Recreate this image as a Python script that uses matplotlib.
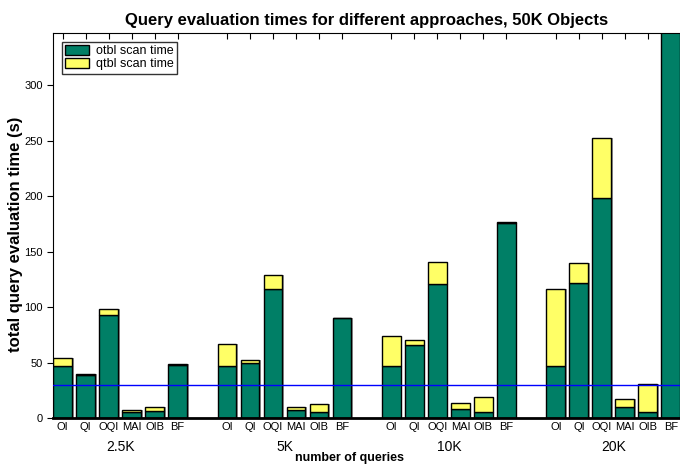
import matplotlib.pyplot as plt
import numpy as np

plt.rcParams['font.family'] = ['Liberation Sans', 'DejaVu Sans']

#---------------- datos ------------
grupos = ["2.5K", "5K", "10K", "20K"]
metodos = ["OI", "QI", "OQI", "MAI", "OIB", "BF"]

# tiempo de scan de otbl (verde) por grupo
otbl = [
    [47, 39, 93, 5, 6, 48],
    [47, 50, 116, 7, 5.5, 90],
    [47, 65.5, 121, 8.4, 5.5, 176],
    [47, 122, 198, 10, 5, 400],
]
# tiempo de scan de qtbl (amarillo) por grupo
qtbl = [
    [7, 0.5, 5, 2, 3.5, 0.5],
    [20, 2, 13, 2.5, 7, 0.5],
    [27, 5, 20, 4.8, 13.5, 1],
    [69, 17.5, 54, 7.5, 26, 0],
]
linea_ref = 30

#---------------- grafico ------------
fig = plt.figure(figsize=(6.8, 4.65), dpi=100)
ax = fig.add_axes([53 / 680, 1 - 418 / 465, 627 / 680, 385 / 465])

verde = "#007f66"
amarillo = "#ffff66"
paso = 7.15
ancho = 0.82

pos_todas = []
for g in range(len(grupos)):
    x = g * paso + np.arange(len(metodos))
    pos_todas.extend(x)
    total = np.array(otbl[g]) + np.array(qtbl[g])
    # sombra gris a la derecha de cada barra
    ax.bar(x + 0.07, total, ancho, color="#9a9a9a", linewidth=0, zorder=1)
    ax.bar(x, otbl[g], ancho, color=verde, edgecolor="black", linewidth=1,
           label="otbl scan time" if g == 0 else None, zorder=2)
    ax.bar(x, qtbl[g], ancho, bottom=otbl[g], color=amarillo, edgecolor="black",
           linewidth=1, label="qtbl scan time" if g == 0 else None, zorder=2)
    ax.text(g * paso + 2.5, -0.075, grupos[g], transform=ax.get_xaxis_transform(),
            ha="center", va="center", fontsize=10)

ax.axhline(linea_ref, color="blue", linewidth=1, zorder=3)

ax.set_xlim(-0.42, 3 * paso + 5.4)
ax.set_ylim(0, 347)
ax.set_yticks(np.arange(0, 301, 50))
ax.set_xticks(pos_todas)
ax.set_xticklabels(metodos * len(grupos), fontsize=8)
ax.tick_params(axis="y", labelsize=8, direction="out", length=4)
ax.tick_params(axis="x", direction="in", length=4, top=True, bottom=False, pad=3)
ax.spines["bottom"].set_linewidth(2)
ax.spines["right"].set_visible(False)

ax.set_title("Query evaluation times for different approaches, 50K Objects",
             fontsize=12, fontweight="bold", pad=6)
fig.text(16 / 680, 1 - 234 / 465, "total query evaluation time (s)", rotation=90,
         ha="center", va="center", fontsize=12, fontweight="bold")
fig.text(350 / 680, 1 - 458 / 465, "number of queries", ha="center", va="center",
         fontsize=9, fontweight="bold")

leg = ax.legend(loc="upper left", fontsize=9, fancybox=False, edgecolor="black",
                handlelength=1.9, handleheight=0.8, borderpad=0.25,
                labelspacing=0.1, handletextpad=0.6,
                bbox_to_anchor=(0.014, 0.977), borderaxespad=0)
leg.get_frame().set_linewidth(1)

fig.savefig("out.png", dpi=100)
